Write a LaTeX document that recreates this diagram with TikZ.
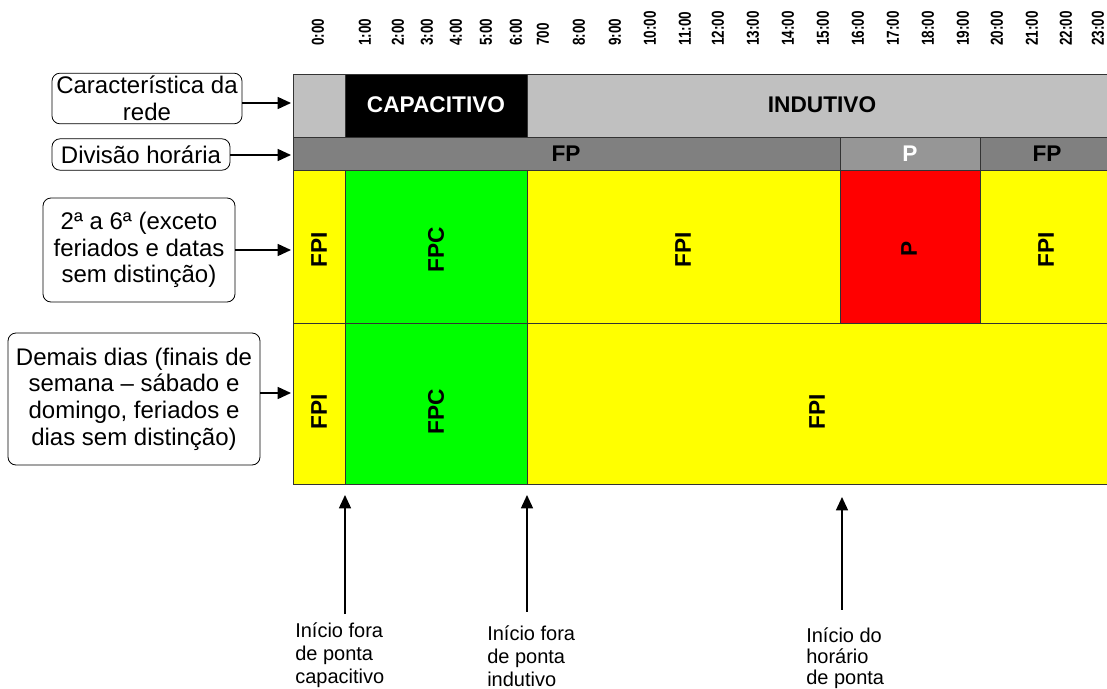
\documentclass[tikz,border=0pt]{standalone}
\usepackage{fontspec}
\setmainfont{Liberation Sans}
\newfontfamily\horafont[FakeStretch=0.78]{Liberation Sans}
\usetikzlibrary{arrows.meta}

\definecolor{cinzaclaro}{HTML}{C0C0C0}
\definecolor{cinzamedio}{HTML}{969696}
\definecolor{cinzaescuro}{HTML}{808080}
\definecolor{amarelo}{HTML}{FFFF00}
\definecolor{verde}{HTML}{00FF00}
\definecolor{vermelho}{HTML}{FF0000}

\tikzset{
  cell/.style={draw=black!80, line width=0.75pt},
  lbl/.style={inner sep=0pt, font=\bfseries\fontsize{17}{20}\selectfont},
  vlbl/.style={lbl, rotate=90},
  caixa/.style={draw, rounded corners=6pt, line width=0.6pt, align=center, inner sep=0pt, font=\fontsize{18}{20}\selectfont},
  seta/.style={-{Triangle[length=10pt,width=9pt]}, line width=1.1pt},
  hora/.style={rotate=90, anchor=west, inner sep=0pt, font=\horafont\bfseries\fontsize{13}{14}\selectfont},
  nota/.style={anchor=north west, align=left, inner sep=0pt, font=\fontsize{15}{17.6}\selectfont}
}

\begin{document}
\begin{tikzpicture}[x=0.75pt,y=0.75pt,yscale=-1,xscale=1]
    \useasboundingbox (0,0) rectangle (1107,689);

    % Hours
    \foreach \x/\t [count=\i] in {318/0:00, 365/1:00, 398/2:00, 427/3:00, 456/4:00, 486/5:00, 516/6:00, 543/700,
        579/8:00, 615/9:00, 650/10:00, 685/11:00, 718/12:00, 753/13:00, 788/14:00, 823/15:00, 858/16:00,
        893/17:00, 928/18:00, 963/19:00, 997/20:00, 1032/21:00, 1066/22:00, 1098/23:00}
      \node[hora] (hora\i) at (\x,46) {\t};

    %Shape: Rectangle - row 1
    \draw[cell, fill=cinzaclaro] (293,74) rectangle (345,137);
    \draw[cell, fill=black] (345,74) rectangle (527,137);
    \draw[cell, fill=cinzaclaro] (527,74) rectangle (1112,137);
    %Shape: Rectangle - row 2
    \draw[cell, fill=cinzaescuro] (293,137) rectangle (840,170);
    \draw[cell, fill=cinzamedio] (840,137) rectangle (980,170);
    \draw[cell, fill=cinzaescuro] (980,137) rectangle (1112,170);
    %Shape: Rectangle - row 3
    \draw[cell, fill=amarelo] (293,170) rectangle (345,323);
    \draw[cell, fill=verde] (345,170) rectangle (527,323);
    \draw[cell, fill=amarelo] (527,170) rectangle (840,323);
    \draw[cell, fill=vermelho] (840,170) rectangle (980,323);
    \draw[cell, fill=amarelo] (980,170) rectangle (1112,323);
    %Shape: Rectangle - row 4
    \draw[cell, fill=amarelo] (293,323) rectangle (345,484);
    \draw[cell, fill=verde] (345,323) rectangle (527,484);
    \draw[cell, fill=amarelo] (527,323) rectangle (1112,484);

    % Text Node
    \node[lbl, text=white] (capac) at (436,105) {CAPACITIVO};
    \node[lbl] (indut) at (822,105) {INDUTIVO};
    \node[lbl] (fpa) at (566,154) {FP};
    \node[lbl, text=white] (pa) at (910,154) {P};
    \node[lbl] (fpb) at (1047,154) {FP};
    % Text Node
    \node[vlbl] (fpia) at (319,250) {FPI};
    \node[vlbl] (fpca) at (436,250) {FPC};
    \node[vlbl] (fpib) at (683,250) {FPI};
    \node[vlbl] (pb) at (909,249) {P};
    \node[vlbl] (fpic) at (1046,250) {FPI};
    \node[vlbl] (fpid) at (319,412) {FPI};
    \node[vlbl] (fpcb) at (436,412) {FPC};
    \node[vlbl] (fpie) at (817,412) {FPI};

    % Left boxes
    \node[caixa, minimum width=142.5pt, minimum height=38pt] (carac) at (147,98.5) {Característica da\\rede};
    \node[caixa, minimum width=133.5pt, minimum height=23.5pt] (divis) at (141,154.5) {Divisão horária};
    \node[caixa, minimum width=144pt, minimum height=78pt] (semana) at (139,250) {2ª a 6ª (exceto\\feriados e datas\\sem distinção)};
    \node[caixa, minimum width=189pt, minimum height=99pt] (demais) at (134,399) {Demais dias (finais de\\semana – sábado e\\domingo, feriados e\\dias sem distinção)};

    \coordinate (ga) at (291,103);
    \coordinate (gb) at (291,155);
    \coordinate (gc) at (291,250);
    \coordinate (gd) at (291,393);
    \draw[seta] (carac.east |- ga) -- (ga);
    \draw[seta] (divis.east |- gb) -- (gb);
    \draw[seta] (semana.east |- gc) -- (gc);
    \draw[seta] (demais.east |- gd) -- (gd);

    % Bottom notes
    \node[nota] (inia) at (295,622) {Início fora\\de ponta\\capacitivo};
    \node[nota] (inib) at (487,625) {Início fora\\de ponta\\indutivo};
    \node[nota, font=\fontsize{15}{16}\selectfont] (inic) at (806,627) {Início do\\horário\\de ponta};

    \coordinate (ta) at (345,495);
    \coordinate (tb) at (527,495);
    \coordinate (tc) at (842,497);
    \draw[seta, shorten <=6pt] (inia.north -| ta) -- (ta);
    \draw[seta, shorten <=10pt] (inib.north -| tb) -- (tb);
    \draw[seta, shorten <=13pt] (inic.north -| tc) -- (tc);
\end{tikzpicture}
\end{document}
